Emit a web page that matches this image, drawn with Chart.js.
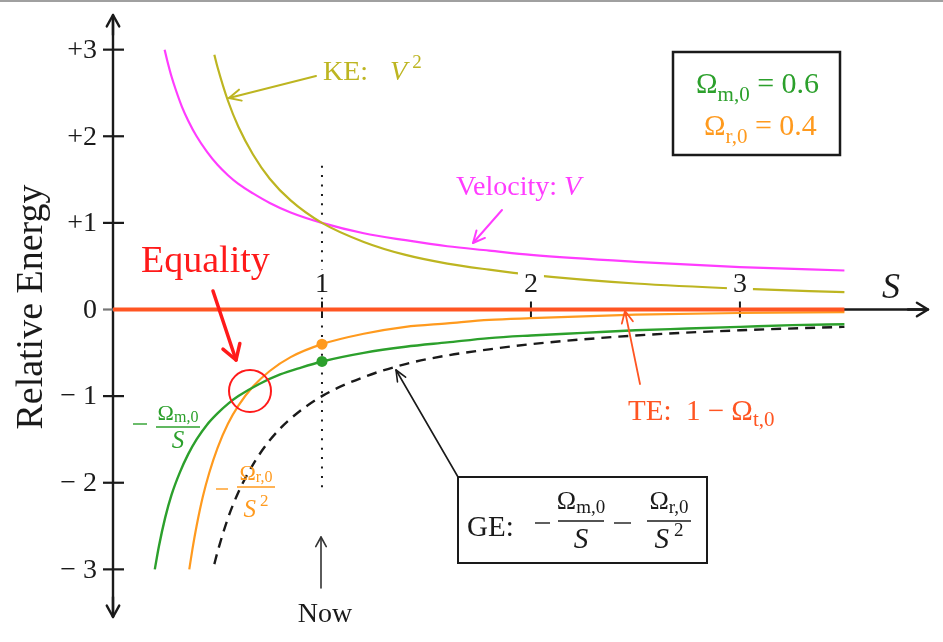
<!DOCTYPE html>
<html>
<head>
<meta charset="utf-8">
<title>Relative Energy</title>
<script src="https://cdn.jsdelivr.net/npm/chart.js@4.4.1/dist/chart.umd.min.js"></script>
<style>
  html, body { margin: 0; padding: 0; background: #fff; }
  canvas { display: block; }
</style>
</head>
<body>
<canvas id="chart" width="943" height="642"></canvas>
<script>
// density parameters today
const omegaM = 0.6;
const omegaR = 0.4;

// matter term  -Ωm,0 / S
const matterS = [0.2, 0.22, 0.25, 0.28, 0.32, 0.36, 0.4, 0.45, 0.5, 0.55, 0.6, 0.7, 0.8, 0.9, 1.0, 1.2, 1.4, 1.6, 1.8, 2.0, 2.25, 2.5, 2.75, 3.0, 3.25, 3.5];
const matterE = [-3.0, -2.73, -2.4, -2.14, -1.88, -1.67, -1.5, -1.33, -1.2, -1.09, -1.0, -0.86, -0.75, -0.67, -0.6, -0.5, -0.43, -0.38, -0.33, -0.3, -0.27, -0.24, -0.22, -0.2, -0.18, -0.17];

// radiation term  -Ωr,0 / S^2
const radS = [0.365, 0.38, 0.4, 0.43, 0.46, 0.5, 0.55, 0.6, 0.67, 0.75, 0.85, 1.0, 1.2, 1.4, 1.6, 1.8, 2.0, 2.5, 3.0, 3.5];
const radE = [-3.0, -2.77, -2.5, -2.16, -1.89, -1.6, -1.32, -1.11, -0.89, -0.71, -0.55, -0.4, -0.28, -0.2, -0.16, -0.12, -0.1, -0.06, -0.04, -0.03];

// gravitational (GE) and kinetic (KE) energy
const energyS = [0.485, 0.5, 0.55, 0.6, 0.67, 0.75, 0.85, 1.0, 1.2, 1.4, 1.6, 1.8, 2.0, 2.5, 3.0, 3.5];
const geE = [-2.94, -2.8, -2.41, -2.11, -1.79, -1.51, -1.26, -1.0, -0.78, -0.63, -0.53, -0.46, -0.4, -0.3, -0.24, -0.2];
const keE = [2.94, 2.8, 2.41, 2.11, 1.79, 1.51, 1.26, 1.0, 0.78, 0.63, 0.53, 0.46, 0.4, 0.3, 0.24, 0.2];

// expansion velocity V
const velS = [0.247, 0.26, 0.28, 0.3, 0.33, 0.36, 0.4, 0.45, 0.5, 0.55, 0.6, 0.67, 0.75, 0.85, 1.0, 1.2, 1.4, 1.6, 1.8, 2.0, 2.5, 3.0, 3.5];
const velV = [3.0, 2.87, 2.69, 2.54, 2.34, 2.18, 2.0, 1.82, 1.67, 1.55, 1.45, 1.34, 1.23, 1.12, 1.0, 0.88, 0.8, 0.73, 0.68, 0.63, 0.55, 0.49, 0.45];

// total energy, flat
const teS = [0, 3.5];
const teE = [0, 0];

// "now" marker line at S = 1
const nowS = [1, 1];
const nowE = [1.66, -2.08];

const yTicks = [3, 2, 1, 0, -1, -2, -3];
const yTickLabels = ['+3', '+2', '+1', '0', '\u2212 1', '\u2212 2', '\u2212 3'];
const xTicks = [1, 2, 3];
const xTickLabels = ['1', '2', '3'];

const GREEN = '#2ca02c';
const ORANGE = '#ff9a1e';
const OLIVE = '#bdb521';
const MAGENTA = '#ff3cff';
const TE_RED = '#ff5522';
const RED = '#ff1a1a';
const INK = '#1a1a1a';
const SERIF = '"Liberation Serif", "Times New Roman", serif';

function font(size, italic) {
    return (italic ? 'italic ' : '') + size + 'px ' + SERIF;
}

function curve(label, xs, ys, color, width, extra) {
    return Object.assign({
        label,
        data: xs.map((x, i) => ({ x, y: ys[i] })),
        showLine: true,
        borderColor: color,
        borderWidth: width,
        pointRadius: 0,
        fill: false,
        cubicInterpolationMode: 'monotone'
    }, extra || {});
}

function line(ctx, x1, y1, x2, y2) {
    ctx.beginPath();
    ctx.moveTo(x1, y1);
    ctx.lineTo(x2, y2);
    ctx.stroke();
}

// straight arrow with an open V head at (x2, y2)
function arrow(ctx, x1, y1, x2, y2, color, width, head, spread) {
    ctx.save();
    ctx.strokeStyle = color;
    ctx.lineWidth = width;
    ctx.lineCap = 'round';
    ctx.lineJoin = 'round';
    line(ctx, x1, y1, x2, y2);
    const a = Math.atan2(y2 - y1, x2 - x1);
    const s = spread || 0.45;
    ctx.beginPath();
    ctx.moveTo(x2 - head * Math.cos(a - s), y2 - head * Math.sin(a - s));
    ctx.lineTo(x2, y2);
    ctx.lineTo(x2 - head * Math.cos(a + s), y2 - head * Math.sin(a + s));
    ctx.stroke();
    ctx.restore();
}

function runWidth(ctx, parts) {
    let w = 0;
    parts.forEach(p => {
        ctx.font = font(p.size, p.italic);
        w += ctx.measureText(p.t).width + (p.dx || 0);
    });
    return w;
}

// text pieces laid left to right on one baseline (sub/superscripts via dy)
function runText(ctx, x, y, parts, color) {
    ctx.textAlign = 'left';
    ctx.textBaseline = 'alphabetic';
    parts.forEach(p => {
        ctx.font = font(p.size, p.italic);
        ctx.fillStyle = p.color || color;
        x += p.dx || 0;
        ctx.fillText(p.t, x, y + (p.dy || 0));
        x += ctx.measureText(p.t).width;
    });
    return x;
}

function fraction(ctx, cx, barY, num, den, opts) {
    const nw = runWidth(ctx, num);
    const dw = runWidth(ctx, den);
    runText(ctx, cx - nw / 2, barY - opts.numUp, num, opts.color);
    runText(ctx, cx - dw / 2, barY + opts.denDown, den, opts.color);
    ctx.strokeStyle = opts.color;
    ctx.lineWidth = 1.4;
    line(ctx, cx - opts.barW / 2, barY, cx + opts.barW / 2, barY);
}

function omega(sub, size, subSize, subDrop) {
    return [{ t: '\u03A9', size }, { t: sub, size: subSize, dy: subDrop }];
}

function minus(ctx, x1, x2, y, color) {
    ctx.strokeStyle = color;
    ctx.lineWidth = 1.4;
    line(ctx, x1, y, x2, y);
}

const axesPlugin = {
    id: 'axes',
    beforeDatasetsDraw(chart) {
        const ctx = chart.ctx;
        const xs = chart.scales.x, ys = chart.scales.y;
        const x0 = xs.getPixelForValue(0), y0 = ys.getPixelForValue(0);
        const right = chart.chartArea.right, top = chart.chartArea.top, bottom = chart.chartArea.bottom;
        ctx.save();

        // frame line along the top edge
        ctx.fillStyle = '#a0a0a0';
        ctx.fillRect(0, 0, chart.width, 2);

        ctx.strokeStyle = INK;
        ctx.lineWidth = 2.4;
        ctx.lineCap = 'butt';
        line(ctx, x0, bottom, x0, top + 1);
        line(ctx, x0, y0, right - 1, y0);
        ctx.restore();

        arrow(ctx, x0, top + 20, x0, top, INK, 2.4, 13, 0.5);
        arrow(ctx, x0, bottom - 20, x0, bottom, INK, 2.4, 13, 0.5);
        arrow(ctx, right - 20, y0, right, y0, INK, 2.4, 13, 0.55);

        ctx.save();
        ctx.lineWidth = 2.2;
        yTicks.forEach(v => {
            const y = ys.getPixelForValue(v);
            ctx.strokeStyle = v === 0 ? '#777' : INK;
            line(ctx, x0 - 10, y, v === 0 ? x0 : x0 + 11, y);
        });
        ctx.strokeStyle = INK;
        ctx.lineWidth = 2;
        xTicks.forEach(v => {
            const x = xs.getPixelForValue(v);
            line(ctx, x, y0 - 8, x, y0 + 8);
        });
        ctx.restore();
    },
    afterDatasetsDraw(chart) {
        const ctx = chart.ctx;
        const xs = chart.scales.x, ys = chart.scales.y;
        const x0 = xs.getPixelForValue(0), y0 = ys.getPixelForValue(0);
        ctx.save();

        // tick labels sit on white so the curves break around them
        ctx.font = font(28);
        ctx.textBaseline = 'middle';
        ctx.textAlign = 'right';
        ctx.fillStyle = INK;
        yTicks.forEach((v, i) => {
            ctx.fillText(yTickLabels[i], x0 - 16, ys.getPixelForValue(v) + 1);
        });
        ctx.textAlign = 'center';
        xTicks.forEach((v, i) => {
            const x = xs.getPixelForValue(v);
            const w = ctx.measureText(xTickLabels[i]).width;
            ctx.fillStyle = '#fff';
            ctx.fillRect(x - w / 2 - 6, y0 - 40, w + 12, 28);
            ctx.fillStyle = INK;
            ctx.fillText(xTickLabels[i], x, y0 - 25);
        });

        // axis titles
        ctx.font = font(36, true);
        ctx.textAlign = 'left';
        ctx.textBaseline = 'alphabetic';
        ctx.fillText('S', 882, y0 - 12);

        ctx.translate(42, 307);
        ctx.rotate(-Math.PI / 2);
        ctx.font = font(38);
        ctx.textAlign = 'center';
        ctx.fillText('Relative Energy', 0, 0);
        ctx.restore();
    }
};

const notesPlugin = {
    id: 'notes',
    afterDraw(chart) {
        const ctx = chart.ctx;
        ctx.save();

        // KE: V^2
        runText(ctx, 323, 80, [
            { t: 'KE:', size: 28 },
            { t: 'V', size: 28, italic: true, dx: 22 },
            { t: '2', size: 19, dx: 5, dy: -12 }
        ], OLIVE);
        arrow(ctx, 316, 76, 229, 98, OLIVE, 2, 13, 0.45);

        // Velocity: V
        runText(ctx, 456, 195, [
            { t: 'Velocity: ', size: 28 },
            { t: 'V', size: 28, italic: true }
        ], MAGENTA);
        arrow(ctx, 502, 210, 473, 243, MAGENTA, 2, 13, 0.45);

        // Equality of matter and radiation terms
        runText(ctx, 141, 272, [{ t: 'Equality', size: 38 }], RED);
        arrow(ctx, 213, 291, 236, 360, RED, 3.5, 17, 0.55);
        ctx.strokeStyle = RED;
        ctx.lineWidth = 2;
        ctx.beginPath();
        ctx.arc(250, 391, 21, 0, Math.PI * 2);
        ctx.stroke();

        // -Ωm,0 / S
        minus(ctx, 133, 147, 424, GREEN);
        fraction(ctx, 178, 427, omega('m,0', 22, 16, 2), [{ t: 'S', size: 25, italic: true }],
            { color: GREEN, numUp: 7, denDown: 21, barW: 44 });

        // -Ωr,0 / S^2
        minus(ctx, 216, 228, 489, ORANGE);
        fraction(ctx, 256, 487, omega('r,0', 22, 16, 2),
            [{ t: 'S', size: 25, italic: true }, { t: '2', size: 17, dx: 4, dy: -11 }],
            { color: ORANGE, numUp: 7, denDown: 30, barW: 38 });

        // GE box
        ctx.strokeStyle = INK;
        ctx.lineWidth = 2;
        ctx.strokeRect(458, 477, 249, 86);
        runText(ctx, 467, 536, [{ t: 'GE:', size: 29 }], INK);
        minus(ctx, 535, 550, 523, INK);
        fraction(ctx, 581, 521, omega('m,0', 26, 19, 4), [{ t: 'S', size: 29, italic: true }],
            { color: INK, numUp: 12, denDown: 27, barW: 46 });
        minus(ctx, 614, 631, 523, INK);
        fraction(ctx, 669, 521, omega('r,0', 26, 19, 4),
            [{ t: 'S', size: 29, italic: true }, { t: '2', size: 19, dx: 5, dy: -12 }],
            { color: INK, numUp: 12, denDown: 27, barW: 44 });
        arrow(ctx, 458, 477, 396, 370, INK, 1.6, 12, 0.4);

        // TE: 1 - Ωt,0
        runText(ctx, 628, 420, [
            { t: 'TE:  1 \u2212 ', size: 29 },
            { t: '\u03A9', size: 29 },
            { t: 't,0', size: 21, dy: 6 }
        ], TE_RED);
        arrow(ctx, 640, 384, 625, 311, TE_RED, 1.8, 13, 0.45);

        // parameter box
        ctx.strokeStyle = INK;
        ctx.lineWidth = 2.5;
        ctx.strokeRect(673, 52, 167, 103);
        runText(ctx, 696, 93, omega('m,0', 29, 21, 8).concat([{ t: ' = ' + omegaM.toFixed(1), size: 30 }]), GREEN);
        runText(ctx, 704, 135, omega('r,0', 29, 21, 8).concat([{ t: ' = ' + omegaR.toFixed(1), size: 30 }]), ORANGE);

        // Now
        arrow(ctx, 321, 588, 321, 537, '#333', 1.6, 11, 0.5);
        ctx.font = font(28);
        ctx.fillStyle = INK;
        ctx.textAlign = 'center';
        ctx.textBaseline = 'alphabetic';
        ctx.fillText('Now', 325, 622);
        ctx.restore();
    }
};

new Chart(document.getElementById('chart'), {
    type: 'scatter',
    data: {
        datasets: [
            { label: 'Ωr today', data: [{ x: 1, y: -omegaR }], pointRadius: 5.5, pointBackgroundColor: ORANGE, pointBorderWidth: 0, showLine: false },
            { label: 'Ωm today', data: [{ x: 1, y: -omegaM }], pointRadius: 5.5, pointBackgroundColor: GREEN, pointBorderWidth: 0, showLine: false },
            curve('TE', teS, teE, TE_RED, 4),
            curve('matter', matterS, matterE, GREEN, 2.4),
            curve('radiation', radS, radE, ORANGE, 2.2),
            curve('GE', energyS, geE, INK, 2.4, { borderDash: [10, 7] }),
            curve('KE', energyS, keE, OLIVE, 2.2),
            curve('Velocity', velS, velV, MAGENTA, 2.2),
            curve('now', nowS, nowE, INK, 2, { borderDash: [2, 7.4], cubicInterpolationMode: 'default' })
        ]
    },
    options: {
        responsive: false,
        animation: false,
        events: [],
        layout: { padding: { left: 113, right: 15, top: 15, bottom: 25 } },
        scales: {
            x: { type: 'linear', min: 0, max: 3.9, display: false },
            y: { type: 'linear', min: -3.55, max: 3.4, display: false }
        },
        plugins: {
            legend: { display: false },
            tooltip: { enabled: false }
        }
    },
    plugins: [axesPlugin, notesPlugin]
});
</script>
</body>
</html>
